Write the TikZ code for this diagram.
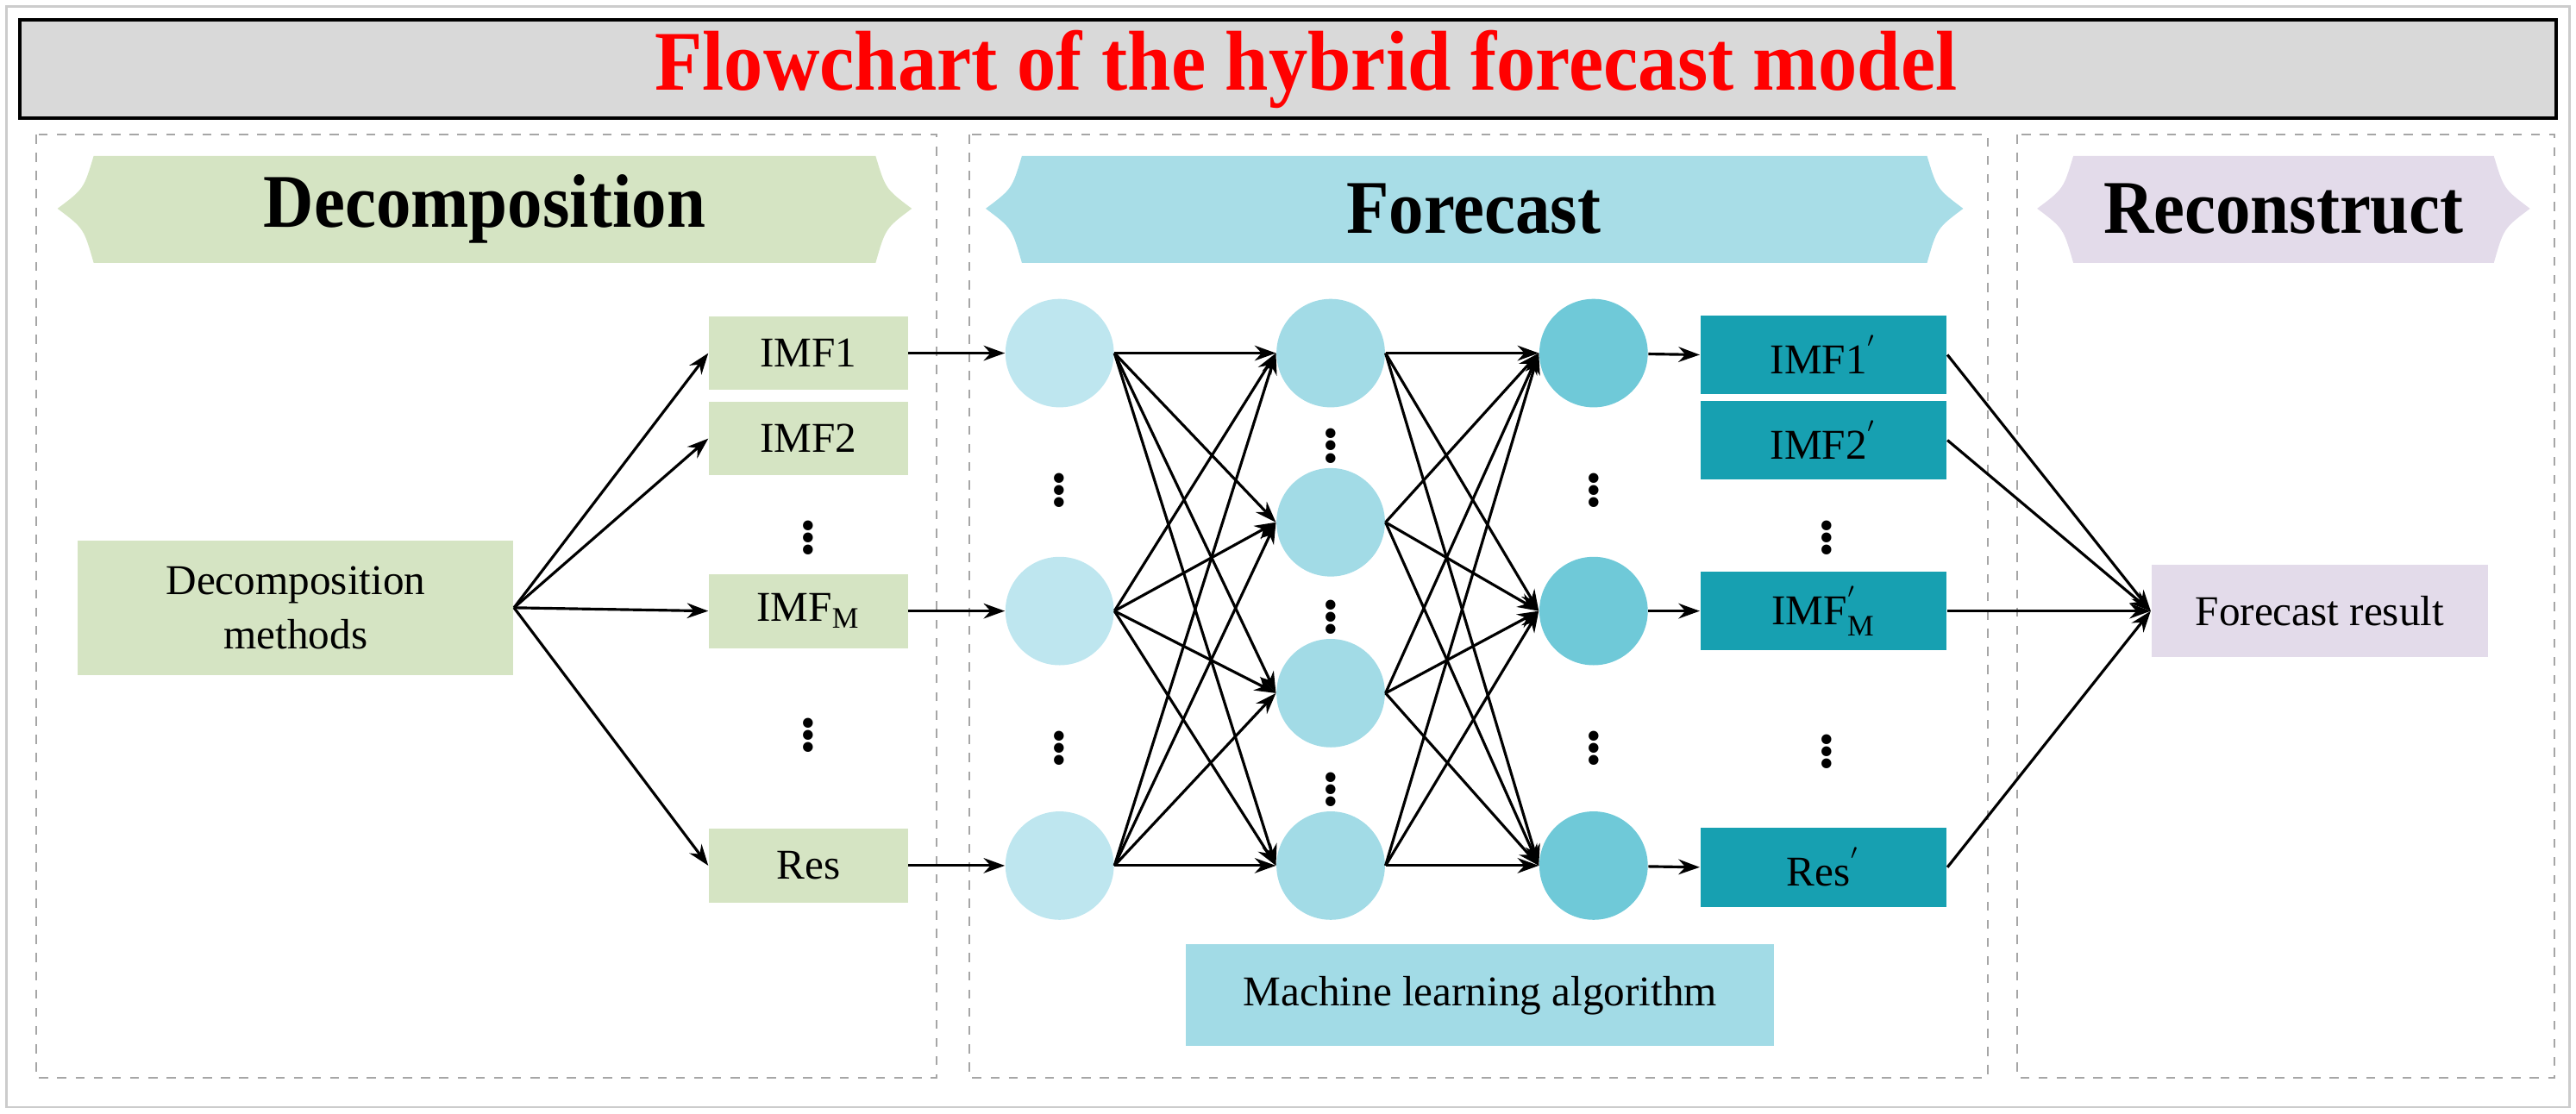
\documentclass[tikz,border=0pt]{standalone}
\usepackage{fontspec}
\setmainfont{Liberation Serif}
\usetikzlibrary{arrows.meta, positioning, calc}
\definecolor{decgreen}{HTML}{D5E4C3}
\definecolor{fcblue}{HTML}{A8DDE7}
\definecolor{recpurple}{HTML}{E3DBEA}
\definecolor{nodeA}{HTML}{BEE6EF}
\definecolor{nodeB}{HTML}{A2DBE6}
\definecolor{nodeC}{HTML}{6FC9D8}
\definecolor{teal}{HTML}{17A0B1}
\newcommand{\px}{0.01905cm}

\begin{document}
\begin{tikzpicture}[x=\px, y=-\px, >={Stealth[length=7pt,width=5pt]},
  panel/.style={draw=gray!70, dashed, line width=0.6pt},
  banner/.style={font=\fontsize{25}{28}\selectfont\bfseries, inner sep=0pt},
  greenbox/.style={fill=decgreen, minimum width=121*\px, minimum height=45*\px, font=\fontsize{14}{16}\selectfont, inner sep=0pt},
  tealbox/.style={fill=teal, minimum width=150*\px, minimum height=48*\px, font=\fontsize{14}{16}\selectfont, inner sep=0pt},
  neuron/.style={circle, minimum size=66*\px, inner sep=0pt},
  dots/.style={font=\fontsize{20}{20}\selectfont\bfseries, inner sep=0pt},
  link/.style={->, line width=0.9pt}]

  % frame, title and panels
  \useasboundingbox (0,0) rectangle (1568,678);
  \draw[gray!40, line width=0.8pt] (4,4) rectangle (1564,674);
  \draw[fill=gray!30, line width=1.2pt] (12,12) rectangle (1556,72);
  \node[text=red, font=\fontsize{28}{30}\selectfont\bfseries] (title) at (795,42) {\scalebox{0.92}[1]{Flowchart of the hybrid forecast model}};
  \draw[panel] (22,82) rectangle (570,656);
  \draw[panel] (590,82) rectangle (1210,656);
  \draw[panel] (1228,82) rectangle (1555,656);

  % banners
  \foreach \xa/\xb/\col in {35/555/decgreen, 600/1195/fcblue, 1240/1540/recpurple}
    \fill[\col] (\xa,127) .. controls (\xa+16,115) .. (\xa+22,95) -- (\xb-22,95)
      .. controls (\xb-16,115) .. (\xb,127) .. controls (\xb-16,139) .. (\xb-22,160)
      -- (\xa+22,160) .. controls (\xa+16,139) .. cycle;
  \node[banner] (decomp) at (295,127) {\scalebox{0.92}[1]{Decomposition}};
  \node[banner] (forecast) at (897,127) {\scalebox{0.92}[1]{Forecast}};
  \node[banner] (recon) at (1390,127) {\scalebox{0.92}[1]{Reconstruct}};

  % decomposition
  \node[fill=decgreen, minimum width=265*\px, minimum height=82*\px, align=center,
    font=\fontsize{14}{18}\selectfont] (method) at (180,370) {Decomposition\\methods};
  \node[greenbox] (d1) at (492,215) {IMF1};
  \node[greenbox] (d2) at (492,267) {IMF2};
  \node[greenbox] (d3) at (492,372) {IMF$_\mathrm{M}$};
  \node[greenbox] (d4) at (492,527) {Res};
  \node[dots] (dd1) at (492,322) {$\vdots$};
  \node[dots] (dd2) at (492,442) {$\vdots$};
  \foreach \i in {1,...,4}
    \draw[link] (method.east) -- (d\i.west);

  % network
  \node[neuron, fill=nodeA] (a1) at (645,215) {};
  \node[neuron, fill=nodeA] (a2) at (645,372) {};
  \node[neuron, fill=nodeA] (a3) at (645,527) {};
  \node[dots] at (645,293) {$\vdots$};
  \node[dots] at (645,450) {$\vdots$};
  \node[neuron, fill=nodeB] (b1) at (810,215) {};
  \node[neuron, fill=nodeB] (b2) at (810,318) {};
  \node[neuron, fill=nodeB] (b3) at (810,422) {};
  \node[neuron, fill=nodeB] (b4) at (810,527) {};
  \foreach \y in {266,370,475}
    \node[dots] at (810,\y) {$\vdots$};
  \node[neuron, fill=nodeC] (c1) at (970,215) {};
  \node[neuron, fill=nodeC] (c2) at (970,372) {};
  \node[neuron, fill=nodeC] (c3) at (970,527) {};
  \node[dots] at (970,293) {$\vdots$};
  \node[dots] at (970,450) {$\vdots$};
  \draw[link] (d1.east) -- (a1);
  \draw[link] (d3.east) -- (a2);
  \draw[link] (d4.east) -- (a3);
  \foreach \i in {1,2,3}
    \foreach \j in {1,...,4} {
      \draw[link] (a\i.east) -- (b\j.west);
      \draw[link] (b\j.east) -- (c\i.west);
    }

  % forecast outputs
  \node[tealbox] (f1) at (1110,216) {IMF1$^{'}$};
  \node[tealbox] (f2) at (1110,268) {IMF2$^{'}$};
  \node[tealbox] (f3) at (1110,372) {IMF$_\mathrm{M}^{'}$};
  \node[tealbox] (f4) at (1110,528) {Res$^{'}$};
  \node[dots] at (1112,322) {$\vdots$};
  \node[dots] at (1112,452) {$\vdots$};
  \draw[link] (c1) -- (f1.west);
  \draw[link] (c2) -- (f3.west);
  \draw[link] (c3) -- (f4.west);
  \node[fill=nodeB, minimum width=358*\px, minimum height=62*\px, font=\fontsize{14}{16}\selectfont] (ml) at (901,606) {Machine learning algorithm};

  % reconstruct
  \node[fill=recpurple, minimum width=205*\px, minimum height=56*\px, font=\fontsize{14}{16}\selectfont] (result) at (1412,372) {Forecast result};
  \foreach \i in {1,...,4}
    \draw[link] (f\i.east) -- (result.west);

\end{tikzpicture}
\end{document}
